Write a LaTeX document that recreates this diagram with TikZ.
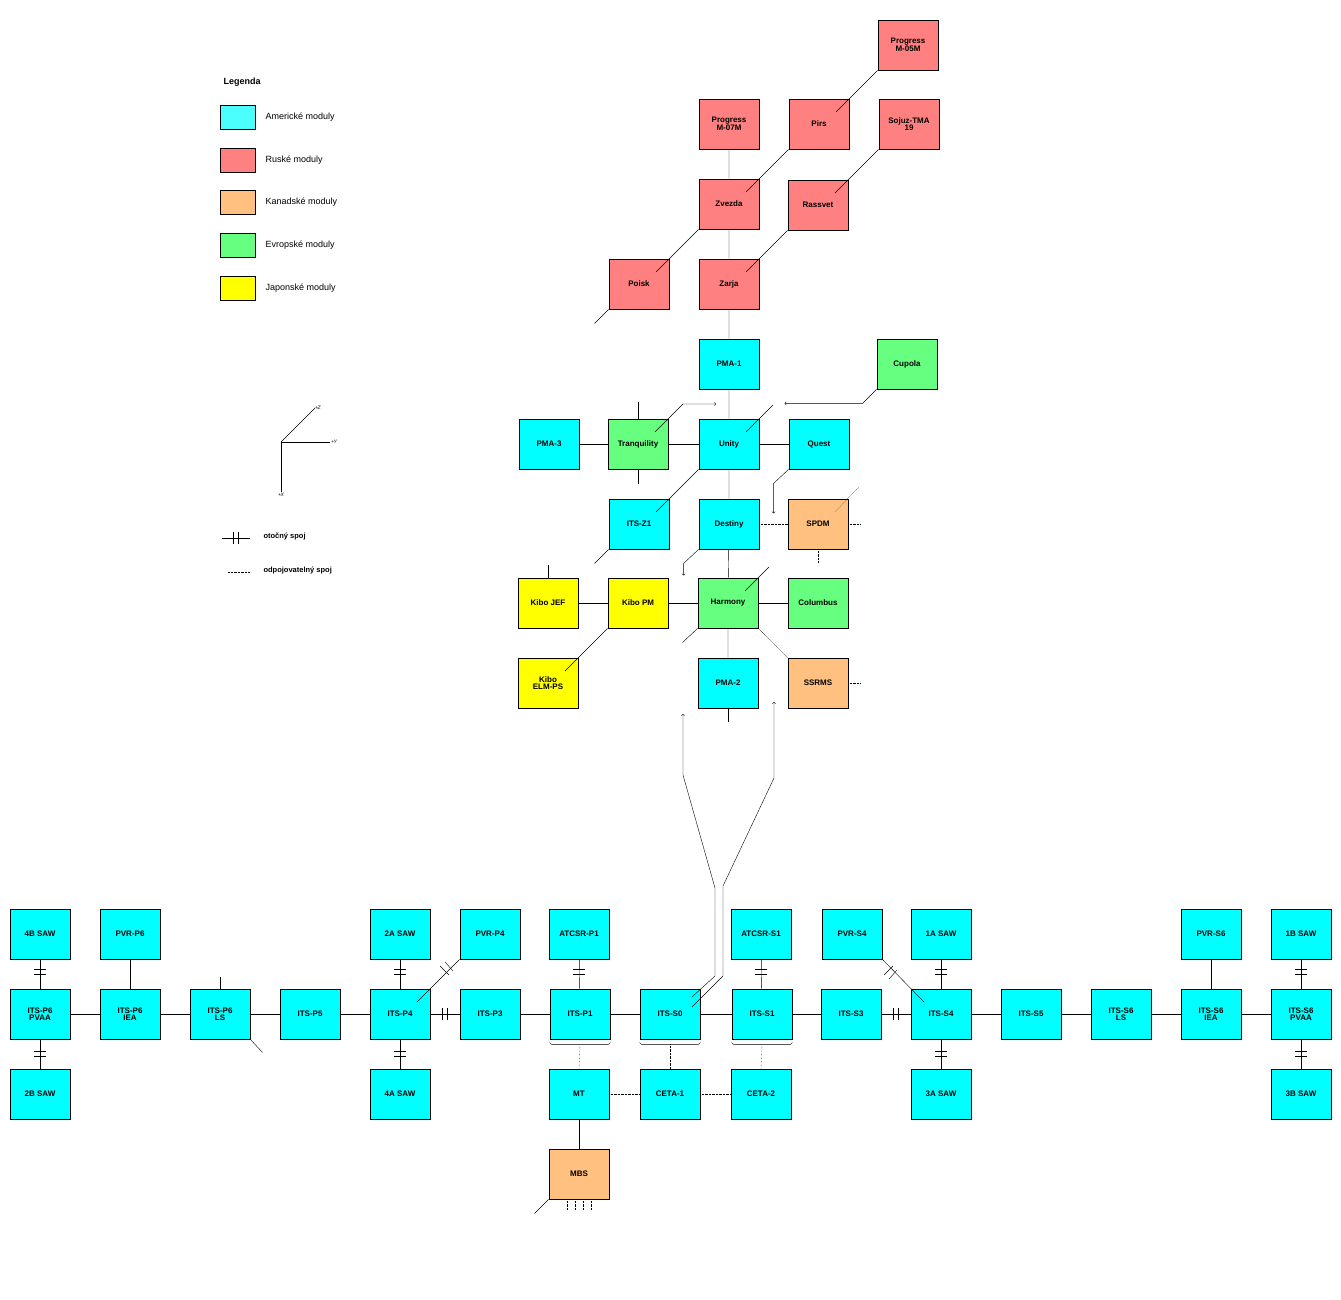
\documentclass[tikz,border=0pt]{standalone}
\usepackage{fontspec}
\setmainfont{Liberation Sans}
\definecolor{usa}{HTML}{00FFFF}
\definecolor{usal}{HTML}{4CFFFF}
\definecolor{rus}{HTML}{FF8080}
\definecolor{can}{HTML}{FFC080}
\definecolor{eur}{HTML}{66FF80}
\definecolor{jap}{HTML}{FFFF00}
\tikzset{
  mod/.style={draw, thick, fill=#1, minimum width=60pt, minimum height=50pt, inner sep=0pt,
    align=center, font=\fontsize{8}{7.5}\selectfont\bfseries},
  swatch/.style={draw, fill=#1, minimum width=35pt, minimum height=24pt, inner sep=0pt},
  leg/.style={anchor=west, font=\fontsize{9}{10}\selectfont},
  disc/.style={densely dotted},
  arr/.style={->, >=to}
}
% rotary joint marks
\newcommand{\rotv}[2]{\draw (#1-6,#2-2.5) -- (#1+6,#2-2.5) (#1-6,#2+2.5) -- (#1+6,#2+2.5);}
\newcommand{\roth}[2]{\draw (#1-2.5,#2-6) -- (#1-2.5,#2+6) (#1+2.5,#2-6) -- (#1+2.5,#2+6);}
\begin{document}
\begin{tikzpicture}[x=1pt,y=-1pt]
\useasboundingbox (0,0) rectangle (1341,1300);

% legend
\node[anchor=west, font=\fontsize{9}{10}\selectfont\bfseries] (legtitle) at (220,82) {Legenda};
\foreach \c/\t/\y [count=\i] in {usal/Americké moduly/117, rus/Ruské moduly/160, can/Kanadské moduly/202, eur/Evropské moduly/245, jap/Japonské moduly/288}{
  \node[swatch=\c] (sw\i) at (238,\y) {};
  \node[leg] (lt\i) at (262,\y) {\t};
}
% axes
\coordinate (ax0) at (281,442);
\draw (ax0) -- (315,408) node[anchor=west, inner sep=0pt, font=\fontsize{9}{10}\selectfont\itshape] (axz) {\tiny+\kern-.5pt Z};
\draw (ax0) -- (330,442) node[anchor=west, inner sep=1pt, font=\fontsize{9}{10}\selectfont\itshape] (axy) {\tiny+\kern-.5pt Y};
\draw (ax0) -- (281,492) node[anchor=north, inner sep=1pt, font=\fontsize{9}{10}\selectfont\itshape] (axx) {\tiny+\kern-.5pt X};
\draw (222,538) -- (250,538); \roth{236}{538}
\node[anchor=west, font=\fontsize{7.5}{8}\selectfont\bfseries] (rotleg) at (260,536) {otočný spoj};
\draw[disc] (228,572) -- (250,572);
\node[anchor=west, font=\fontsize{7.5}{8}\selectfont\bfseries] (disleg) at (260,571) {odpojovatelný spoj};

% upper modules
\node[mod=rus] (pgr05) at (908,45) {Progress\\M-05M};
\node[mod=rus] (pgr07) at (729,124) {Progress\\M-07M};
\node[mod=rus] (pirs) at (819,124) {Pirs};
\node[mod=rus] (sojuz) at (909,124) {Sojuz-TMA\\19};
\node[mod=rus] (zvezda) at (729,204) {Zvezda};
\node[mod=rus] (rassvet) at (818,205) {Rassvet};
\node[mod=rus] (poisk) at (639,284) {Poisk};
\node[mod=rus] (zarja) at (729,284) {Zarja};
\node[mod=usa] (pma1) at (729,364) {PMA-1};
\node[mod=eur] (cupola) at (907,364) {Cupola};
\node[mod=usa] (pma3) at (549,444) {PMA-3};
\node[mod=eur] (tranq) at (638,444) {Tranquility};
\node[mod=usa] (unity) at (729,444) {Unity};
\node[mod=usa] (quest) at (819,444) {Quest};
\node[mod=usa] (z1) at (639,524) {ITS-Z1};
\node[mod=usa] (destiny) at (729,524) {Destiny};
\node[mod=can] (spdm) at (818,524) {SPDM};
\node[mod=jap] (jef) at (548,603) {Kibo JEF};
\node[mod=jap] (kibopm) at (638,603) {Kibo PM};
\node[mod=eur] (harmony) at (728,603) {Harmony};
\node[mod=eur] (columbus) at (818,603) {Columbus};
\node[mod=jap] (elm) at (548,683) {Kibo\\ELM-PS};
\node[mod=usa] (pma2) at (728,683) {PMA-2};
\node[mod=can] (ssrms) at (818,683) {SSRMS};

% upper connections
\draw (pgr07) -- (zvezda) -- (zarja) -- (pma1) -- (unity) -- (destiny) -- (harmony) -- (pma2);
\draw (pma3) -- (tranq) -- (unity) -- (quest);
\draw (jef) -- (kibopm) -- (harmony) -- (columbus);
\draw (pma2.south) -- ++(0,14);
\draw ([shift={(17,-12)}]pirs.center) -- (pgr05.south west);
\draw ([shift={(17,-12)}]zvezda.center) -- (pirs.south west);
\draw ([shift={(17,-12)}]rassvet.center) -- (sojuz.south west);
\draw ([shift={(17,-12)}]zarja.center) -- (rassvet.south west);
\draw ([shift={(17,-12)}]poisk.center) -- (zvezda.south west);
\draw (poisk.south west) -- ++(-14,14);
\draw[arr] (cupola.south west) -- ++(-14,14) -- ++(-78,0);
\draw ([shift={(17,-12)}]unity.center) -- ++(27,-27);
\draw (tranq.north) -- ++(0,-17) (tranq.south) -- ++(0,15);
\draw[arr] ([shift={(17,-12)}]tranq.center) -- ++(28,-28) -- ++(33,0);
\draw ([shift={(17,-12)}]z1.center) -- (unity.south west);
\draw (z1.south west) -- ++(-14,14);
\draw[arr] (quest.south west) -- ++(-15,14) -- ++(0,30);
\draw[disc] (destiny) -- (spdm);
\draw[disc] (spdm.east) -- ++(12,0) (spdm.south) -- ++(0,13);
\draw[disc] ([shift={(17,-12)}]spdm.center) -- ++(24,-25);
\draw[arr] (destiny.south west) -- ++(-15,14) -- ++(0,12);
\draw ([shift={(17,-12)}]harmony.center) -- ++(24,-24);
\draw (harmony.south west) -- ++(-15,14);
\draw (jef.north) -- ++(0,-13);
\draw ([shift={(17,-12)}]elm.center) -- (kibopm.south west);
\draw[disc] (harmony.south east) -- (ssrms.north west);
\draw[disc] (ssrms.east) -- ++(12,0);

% truss
\foreach \n/\t/\x in {p6pvaa/ITS-P6\\PVAA/40, p6iea/ITS-P6\\IEA/130, p6ls/ITS-P6\\LS/220, p5/ITS-P5/310,
  p4/ITS-P4/400, p3/ITS-P3/490, p1/ITS-P1/580, s0/ITS-S0/670, s1/ITS-S1/762, s3/ITS-S3/851,
  s4/ITS-S4/941, s5/ITS-S5/1031, s6ls/ITS-S6\\LS/1121, s6iea/ITS-S6\\IEA/1211, s6pvaa/ITS-S6\\PVAA/1301}
  \node[mod=usa] (\n) at (\x,1014) {\t};
\foreach \n/\t/\x in {saw4b/4B SAW/40, pvrp6/PVR-P6/130, saw2a/2A SAW/400, pvrp4/PVR-P4/490,
  atcsrp1/ATCSR-P1/579, atcsrs1/ATCSR-S1/761, pvrs4/PVR-S4/852, saw1a/1A SAW/941, pvrs6/PVR-S6/1211, saw1b/1B SAW/1301}
  \node[mod=usa] (\n) at (\x,934) {\t};
\foreach \n/\t/\x in {saw2b/2B SAW/40, saw4a/4A SAW/400, mt/MT/579, ceta1/CETA-1/670, ceta2/CETA-2/761, saw3a/3A SAW/941, saw3b/3B SAW/1301}
  \node[mod=usa] (\n) at (\x,1094) {\t};
\node[mod=can] (mbs) at (579,1174) {MBS};

% truss connections
\draw (p6pvaa) -- (p6iea) -- (p6ls) -- (p5) -- (p4);
\draw (p3) -- (p1) -- (s0) -- (s1) -- (s3);
\draw (s4) -- (s5) -- (s6ls) -- (s6iea) -- (s6pvaa);
\draw (p4) -- (p3); \roth{445}{1014}
\draw (s3) -- (s4); \roth{896}{1014}
\foreach \a/\b/\x in {saw4b/p6pvaa/40, saw2a/p4/400, atcsrp1/p1/579, atcsrs1/s1/761, saw1a/s4/941, saw1b/s6pvaa/1301}
  {\draw (\a) -- (\b); \rotv{\x}{972}}
\foreach \a/\b/\x in {p6pvaa/saw2b/40, p4/saw4a/400, s4/saw3a/941, s6pvaa/saw3b/1301}
  {\draw (\a) -- (\b); \rotv{\x}{1054}}
\draw (pvrp6) -- (p6iea);
\draw (pvrs6) -- (s6iea);
\draw (p6ls.north) -- ++(0,-12);
\draw (p6ls.south east) -- ++(12,13);
\draw (pvrp4.south west) -- ([shift={(17,-12)}]p4.center);
\draw (440,966) -- (449,975) (445,962) -- (453,971);
\draw (pvrs4.south east) -- ([shift={(-17,-12)}]s4.center);
\draw (893,966) -- (884,975) (897,970) -- (889,979);
\draw (mt) -- (mbs);
\draw[disc] (mt) -- (ceta1) -- (ceta2);
\foreach \m/\c in {p1/mt, s0/ceta1, s1/ceta2}{
  \draw ([shift={(0,3)}]\m.south west) -- ++(2,2) -- ([shift={(-2,5)}]\m.south east) -- ++(2,-2);
  \draw[disc] ([shift={(0,5)}]\m.south) -- (\c.north);
}
\foreach \x in {-12,-4,4,12}
  \draw[disc] ([shift={(\x,0)}]mbs.south) -- ++(0,10);
\draw (mbs.south west) -- ++(-14,14);

% links from S0 to PMA-2
\draw[arr] ([shift={(22,-17)}]s0.center) -- ++(23,-21) -- ++(0,-88) -- ++(-32,-113) -- ++(0,-61);
\draw[arr] ([shift={(22,-7)}]s0.center) -- ++(31,-31) -- ++(0,-90) -- ++(51,-108) -- ++(0,-76);
\end{tikzpicture}
\end{document}
